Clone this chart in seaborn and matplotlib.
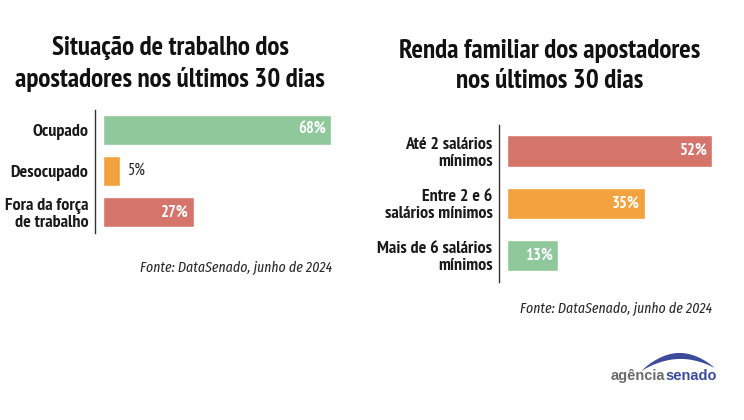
import numpy as np
import pandas as pd
import matplotlib
matplotlib.use("Agg")
import matplotlib.pyplot as plt
import seaborn as sns

# situação de trabalho
trab_cat = ["Ocupado", "Desocupado", "Fora da força\nde trabalho"]
trab_val = [68, 5, 27]

# renda familiar
renda_cat = ["Até 2 salários\nmínimos", "Entre 2 e 6\nsalários mínimos", "Mais de 6 salários\nmínimos"]
renda_val = [52, 35, 13]

GREEN = "#8fc89a"
ORANGE = "#f2a23f"
RED = "#d5746a"

sns.set_theme(style="white")
plt.rcParams["font.family"] = ["PT Sans Narrow", "DejaVu Sans"]

fig = plt.figure(figsize=(7.44, 4.2), dpi=100)

# overlay for titles / sources / logo, pixel coords
bg = fig.add_axes([0, 0, 1, 1])
bg.set_xlim(0, 744)
bg.set_ylim(420, 0)
bg.axis("off")


def hbar(ax, cats, vals, colors, width, inside_min):
    df = pd.DataFrame({"cat": cats, "val": vals})
    sns.barplot(data=df, x="val", y="cat", hue="cat", palette=colors,
                width=width, legend=False, ax=ax, saturation=1)
    ax.set_xlim(0, max(vals))
    ax.set_ylim(len(cats) - 0.5, -0.5)
    ax.set_xlabel("")
    ax.set_ylabel("")
    ax.set_xticks([])
    for s in ["top", "right", "bottom"]:
        ax.spines[s].set_visible(False)
    ax.spines["left"].set_position(("outward", 6))
    ax.spines["left"].set_color("#333333")
    ax.spines["left"].set_linewidth(1.0)
    ax.tick_params(axis="y", length=0, pad=4.5)
    for lab in ax.get_yticklabels():
        lab.set_fontweight("bold")
        lab.set_fontsize(13)
        lab.set_color("#1a1a1a")
        lab.set_horizontalalignment("right")
        lab.set_multialignment("right")
        lab.set_linespacing(1.05)
    for i, v in enumerate(vals):
        if v >= inside_min:
            ax.text(v - 1.6 * max(vals) / 68, i, f"{v}%", ha="right", va="center",
                    color="white", fontsize=12, fontweight="bold")
        else:
            ax.text(v + 2.5, i, f"{v}%", ha="left", va="center",
                    color="#222222", fontsize=12)


ax1 = fig.add_axes([103 / 744, 1 - 233 / 420, 228 / 744, 123.5 / 420])
hbar(ax1, trab_cat, trab_val, [GREEN, ORANGE, RED], 0.73, 10)

ax2 = fig.add_axes([507 / 744, 1 - 281.5 / 420, 205 / 744, 156.5 / 420])
hbar(ax2, renda_cat, renda_val, [RED, ORANGE, GREEN], 0.6, 10)

# titles
bg.text(170, 64, "Situação de trabalho dos\napostadores nos últimos 30 dias",
        ha="center", va="center", fontsize=19.5, fontweight="bold",
        color="#111111", linespacing=1.32)
bg.text(550, 66, "Renda familiar dos apostadores\nnos últimos 30 dias",
        ha="center", va="center", fontsize=19.5, fontweight="bold",
        color="#111111", linespacing=1.32)

# sources
src = dict(ha="right", va="center", fontsize=10.8, style="italic",
           color="#2a2a2a", family=["Fira Sans Extra Condensed", "DejaVu Sans"],
           fontweight="normal")
bg.text(332, 268, "Fonte: DataSenado, junho de 2024", **src)
bg.text(712, 309, "Fonte: DataSenado, junho de 2024", **src)

# logo
logo = dict(va="center", fontsize=10.5, fontweight="bold",
            family=["Liberation Sans", "DejaVu Sans"])
bg.text(665, 376, "agência", ha="right", color="#6b6b6b", **logo)
bg.text(665, 376, "senado", ha="left", color="#3d4b9b", **logo)
t = np.linspace(0, 1, 60)
xs = 641 + 73 * t
outer = 371 - 17 * np.sin(np.pi * t) ** 0.8 - 3 * t
inner = 371 - 11 * np.sin(np.pi * t) ** 0.8 - 3 * t
bg.fill_between(xs, outer, inner, color="#3d4b9b", lw=0)

fig.savefig("out.png", dpi=100, facecolor="white")
